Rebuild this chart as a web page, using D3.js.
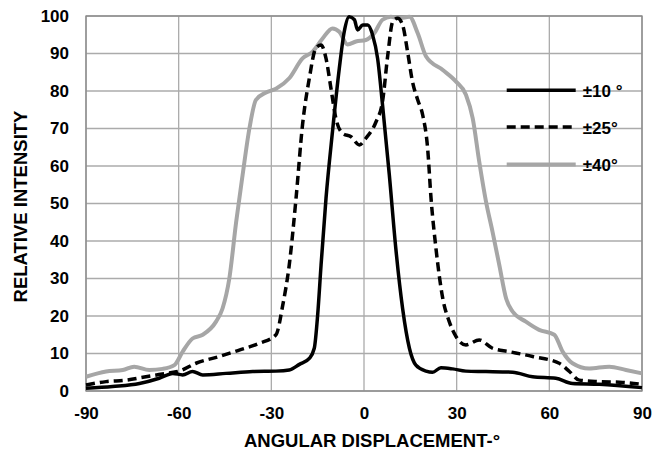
<!DOCTYPE html>
<html>
<head>
<meta charset="utf-8">
<script src="https://cdn.jsdelivr.net/npm/d3@7/dist/d3.min.js"></script>
<style>
  body { margin: 0; background: #fff; }
  text { font-family: "Liberation Sans", Arial, sans-serif; font-weight: bold; fill: #000; }
</style>
</head>
<body>
<div id="chart"></div>
<script>
var xTicks = [-90, -60, -30, 0, 30, 60, 90];
var yTicks = [0, 10, 20, 30, 40, 50, 60, 70, 80, 90, 100];

var seriesNames = ["\u00b110 \u00b0", "\u00b125\u00b0", "\u00b140\u00b0"];

// ±10 °
var deg10 = [-90, -81.4, -72.7, -66.3, -61.9, -58.7, -55.5, -52.2, -44.7, -36, -28.5, -24.2, -20.9, -17.7, -16.1, -15, -13.9, -12.3, -10.2, -8, -6.4, -4.8, -3.1, -2.1, -0.4, 1.2, 2.8, 4.4, 6, 8.2, 10.3, 12.5, 14.7, 16.8, 20.1, 22.2, 24.9, 28.7, 33, 39.5, 48.1, 54.6, 62.1, 67.5, 76.2, 90];
var val10 = [0.7, 1.2, 2, 3.4, 4.7, 4.3, 5.2, 4.3, 4.7, 5.2, 5.3, 5.6, 7.1, 8.7, 11.4, 20.3, 33.6, 51.4, 69.2, 86, 95.8, 99.8, 99, 96.3, 97.6, 97.6, 94.9, 88.7, 76.3, 57.6, 38, 22, 11.4, 6.9, 5.3, 5, 6.2, 5.9, 5.3, 5.2, 5, 3.8, 3.4, 2, 1.8, 0.9];

// ±25°
var deg25 = [-90, -83.5, -77, -70.6, -64.1, -59.8, -54.4, -46.8, -40.4, -33.9, -28.5, -26.3, -24.2, -22, -19.9, -17.7, -15.6, -13.9, -12.3, -10.7, -9.1, -6.9, -4.2, -1.5, 0.6, 3.9, 6, 7.7, 9.3, 10.9, 12.5, 14.1, 15.7, 17.4, 19, 20.6, 21.7, 23.3, 25.5, 27.6, 29.8, 33, 37.3, 41.6, 47, 54.6, 63.2, 66.5, 69.7, 76.2, 83.7, 90];
var val25 = [1.6, 2.5, 2.9, 3.8, 4.7, 5.3, 7.4, 9.2, 10.9, 12.7, 15, 22.9, 33.6, 51.4, 71, 83.4, 91.4, 92.3, 88.7, 80.7, 72.7, 68.7, 67.8, 65.6, 67.4, 71.8, 77.2, 89.6, 98.5, 99.4, 97.6, 90.5, 82.5, 77.6, 73.6, 64.7, 51.4, 38, 24.7, 18.5, 14.5, 12.3, 13.6, 11.4, 10.5, 9.2, 7.4, 5.2, 2.9, 2.5, 2.3, 1.8];

// ±40°
var deg40 = [-90, -83.5, -78.1, -74.4, -69.5, -65.2, -61.4, -58.7, -55.5, -52.2, -47.9, -45.8, -43.6, -41.4, -39.3, -37.1, -35, -31.7, -28.5, -24.2, -19.9, -16.6, -13.4, -10.2, -8, -5.3, -2.6, 0.6, 3.3, 6, 8.7, 11.4, 14.7, 17.4, 20.1, 25.5, 29.8, 33, 35.2, 37.3, 39.5, 41.6, 43.8, 46, 48.1, 52.4, 56.7, 61.6, 64.3, 67.5, 72.9, 79.4, 84.8, 90];
var val40 = [3.8, 5.2, 5.6, 6.5, 5.6, 5.9, 6.9, 10.5, 14, 15, 18.5, 22, 30, 45, 57.6, 70, 77.6, 79.6, 80.6, 83.4, 88.7, 90.5, 94, 96.7, 95.8, 92.4, 93.2, 93.6, 95.4, 99, 99.8, 99.4, 99.8, 95.4, 89.2, 85.6, 82.5, 79, 72.7, 61.2, 50.5, 42.5, 33.6, 24.7, 21.2, 18.5, 16.3, 15, 10.5, 7.4, 6, 6.5, 5.6, 4.7];

var W = 666, H = 455;
var margin = {left: 86, right: 24, top: 16, bottom: 64};
var width = W - margin.left - margin.right;
var height = H - margin.top - margin.bottom;

var svg = d3.select("#chart").append("svg")
    .attr("width", W)
    .attr("height", H)
    .append("g")
    .attr("transform", "translate(" + margin.left + "," + margin.top + ")");

var x = d3.scaleLinear().domain([-90, 90]).range([0, width]);
var y = d3.scaleLinear().domain([0, 100]).range([height, 0]);

// gridlines
svg.append("g")
    .selectAll("line")
    .data(xTicks)
    .enter().append("line")
    .attr("x1", function(d) { return x(d); })
    .attr("x2", function(d) { return x(d); })
    .attr("y1", 0)
    .attr("y2", height)
    .attr("stroke", "#ababab")
    .attr("stroke-width", 1.3);

svg.append("g")
    .selectAll("line")
    .data(yTicks)
    .enter().append("line")
    .attr("x1", 0)
    .attr("x2", width)
    .attr("y1", function(d) { return y(d); })
    .attr("y2", function(d) { return y(d); })
    .attr("stroke", "#ababab")
    .attr("stroke-width", 1.3);

svg.append("rect")
    .attr("x", 0).attr("y", 0)
    .attr("width", width).attr("height", height)
    .attr("fill", "none")
    .attr("stroke", "#888")
    .attr("stroke-width", 1.3);

// axes (plain hyphen for negatives, like the original)
var xAxis = d3.axisBottom(x).tickValues(xTicks).tickSize(0).tickPadding(16)
    .tickFormat(function(d) { return String(d); });
var yAxis = d3.axisLeft(y).tickValues(yTicks).tickSize(0).tickPadding(17)
    .tickFormat(function(d) { return String(d); });

function styleTicks(g) {
    g.select(".domain").remove();
    g.selectAll("text")
     .style("font-size", "17px")
     .style("font-family", "'Liberation Sans', Arial, sans-serif")
     .style("font-weight", "bold")
     .attr("fill", "#000");
}

svg.append("g")
    .attr("transform", "translate(0," + height + ")")
    .call(xAxis)
    .call(styleTicks);

svg.append("g")
    .call(yAxis)
    .call(styleTicks);

svg.append("text")
    .attr("x", width / 2 + 8)
    .attr("y", height + 56)
    .attr("text-anchor", "middle")
    .style("font-size", "18.5px")
    .text("ANGULAR DISPLACEMENT-\u00b0");

svg.append("text")
    .attr("transform", "translate(-59," + (height / 2 + 3) + ") rotate(-90)")
    .attr("text-anchor", "middle")
    .style("font-size", "18.5px")
    .text("RELATIVE INTENSITY");

// lines
var series = [
  {name: seriesNames[0], deg: deg10, val: val10, color: "#000", w: 3.5, dash: null},
  {name: seriesNames[1], deg: deg25, val: val25, color: "#000", w: 3.5, dash: "9,5"},
  {name: seriesNames[2], deg: deg40, val: val40, color: "#a6a6a6", w: 4, dash: null}
];

svg.append("clipPath").attr("id", "clip")
    .append("rect").attr("x", -2).attr("y", -2).attr("width", width + 4).attr("height", height + 4);

var line = d3.line()
    .x(function(d) { return x(d[0]); })
    .y(function(d) { return y(d[1]); })
    .curve(d3.curveMonotoneX);

// gray first so the black lines sit on top
[2, 1, 0].forEach(function(i) {
  var s = series[i];
  var pts = s.deg.map(function(d, j) { return [d, s.val[j]]; });
  svg.append("path")
      .attr("clip-path", "url(#clip)")
      .attr("d", line(pts))
      .attr("fill", "none")
      .attr("stroke", s.color)
      .attr("stroke-width", s.w)
      .attr("stroke-linejoin", "round")
      .attr("stroke-dasharray", s.dash);
});

// legend
var legendY = [80.2, 70.4, 60.4];
var leg = svg.selectAll(".legend")
    .data(series)
    .enter().append("g")
    .attr("class", "legend")
    .attr("transform", function(d, i) { return "translate(" + x(46.2) + "," + y(legendY[i]) + ")"; });

leg.append("line")
    .attr("x1", 0).attr("x2", 69)
    .attr("y1", 0).attr("y2", 0)
    .attr("stroke", function(d) { return d.color; })
    .attr("stroke-width", function(d) { return d.w; })
    .attr("stroke-dasharray", function(d) { return d.dash; });

leg.append("text")
    .attr("x", 76)
    .attr("y", 6.5)
    .style("font-size", "17px")
    .text(function(d) { return d.name; });
</script>
</body>
</html>
